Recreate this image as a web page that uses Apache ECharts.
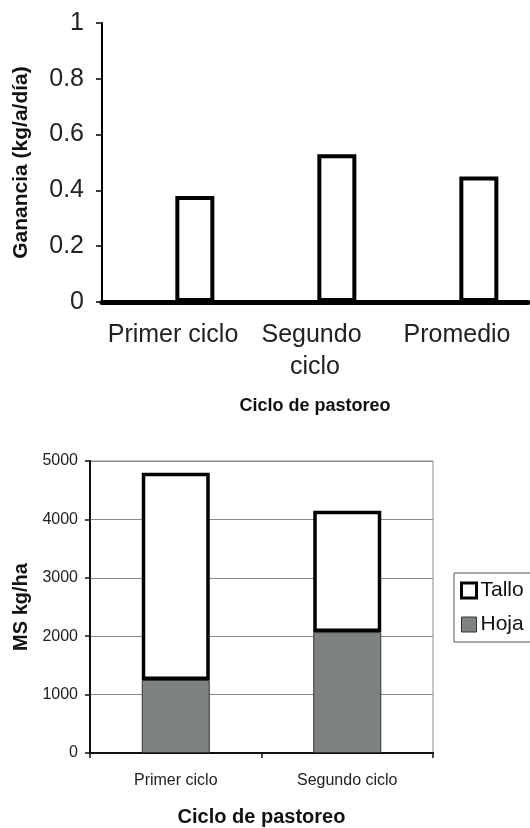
<!DOCTYPE html>
<html>
<head>
<meta charset="utf-8">
<script src="https://cdn.jsdelivr.net/npm/echarts@6/dist/echarts.min.js"></script>
<style>
  html, body { margin: 0; padding: 0; background: #ffffff; }
  #chart { width: 530px; height: 828px; }
</style>
</head>
<body>
<div id="chart"></div>
<script>
// Upper panel: daily weight gain per grazing cycle
const gainCategories = ['Primer ciclo', 'Segundo ciclo', 'Promedio'];
const gainValues = [0.38, 0.53, 0.45];

// Lower panel: dry matter split into stem and leaf
const dmCategories = ['Primer ciclo', 'Segundo ciclo'];
const hojaValues = [1250, 2070];
const talloValues = [3550, 2080];

const FONT = 'Liberation Sans, Arial, sans-serif';
const chart = echarts.init(document.getElementById('chart'), null, { renderer: 'canvas' });

chart.setOption({
  backgroundColor: '#ffffff',
  animation: false,
  textStyle: { fontFamily: FONT, color: '#111' },
  grid: [
    { left: 102, top: 23, width: 426, height: 279 },
    { left: 90, top: 461, width: 343, height: 292, show: true, borderColor: '#8a8a8a', borderWidth: 1, backgroundColor: 'transparent' }
  ],
  legend: {
    data: [
      { name: 'Tallo', itemStyle: { color: '#ffffff', borderColor: '#000', borderWidth: 3 } },
      { name: 'Hoja', itemStyle: { color: '#7f8282', borderColor: '#333', borderWidth: 1 } }
    ],
    orient: 'vertical',
    left: 454,
    top: 573,
    icon: 'rect',
    itemWidth: 15,
    itemHeight: 15,
    itemGap: 13,
    padding: [7, 30, 7, 6],
    borderColor: '#555',
    borderWidth: 1,
    textStyle: { fontFamily: FONT, fontSize: 21, color: '#111', padding: [0, 0, 0, -1] }
  },
  xAxis: [
    {
      type: 'category',
      gridIndex: 0,
      data: gainCategories,
      axisLine: { lineStyle: { color: '#000', width: 5 } },
      axisTick: { show: false },
      axisLabel: { interval: 0, fontSize: 25, color: '#222', margin: 17, width: 135, overflow: 'break', lineHeight: 32 },
      name: 'Ciclo de pastoreo',
      nameLocation: 'middle',
      nameGap: 95,
      nameTextStyle: { fontSize: 18, fontWeight: 'bold', color: '#111' }
    },
    {
      type: 'category',
      gridIndex: 1,
      data: dmCategories,
      axisLine: { lineStyle: { color: '#111', width: 2 } },
      axisTick: { show: true, length: 5, lineStyle: { color: '#111', width: 1.5 } },
      axisLabel: { interval: 0, fontSize: 16, color: '#222', margin: 20 },
      name: 'Ciclo de pastoreo',
      nameLocation: 'middle',
      nameGap: 54,
      nameTextStyle: { fontSize: 20, fontWeight: 'bold', color: '#111' }
    }
  ],
  yAxis: [
    {
      type: 'value',
      gridIndex: 0,
      min: 0, max: 1, interval: 0.2,
      axisLine: { show: true, lineStyle: { color: '#000', width: 2 } },
      axisTick: { show: true, length: 6, lineStyle: { color: '#000', width: 1.5 } },
      splitLine: { show: false },
      axisLabel: { fontSize: 25, color: '#222', margin: 18, formatter: v => String(Math.round(v * 10) / 10) },
      name: 'Ganancia (kg/a/día)',
      nameLocation: 'middle',
      nameGap: 70,
      nameTextStyle: { fontSize: 21, fontWeight: 'bold', color: '#111' }
    },
    {
      type: 'value',
      gridIndex: 1,
      min: 0, max: 5000, interval: 1000,
      axisLine: { show: true, lineStyle: { color: '#111', width: 2 } },
      axisTick: { show: true, length: 5, lineStyle: { color: '#111', width: 1.5 } },
      splitLine: { show: true, lineStyle: { color: '#8a8a8a', width: 1 } },
      axisLabel: { fontSize: 16, color: '#222', margin: 12, formatter: v => String(v) },
      name: 'MS kg/ha',
      nameLocation: 'middle',
      nameGap: 58,
      nameTextStyle: { fontSize: 20, fontWeight: 'bold', color: '#111' }
    }
  ],
  series: [
    {
      // empty companion series: keeps the gain bars in the right half of each slot
      name: 'vacío',
      type: 'bar',
      xAxisIndex: 0, yAxisIndex: 0,
      barWidth: 39,
      barGap: '12%',
      data: []
    },
    {
      name: 'Ganancia',
      type: 'bar',
      xAxisIndex: 0, yAxisIndex: 0,
      barWidth: 39,
      barGap: '12%',
      data: gainValues,
      itemStyle: { color: '#ffffff', borderColor: '#000', borderWidth: 4 }
    },
    {
      name: 'Hoja',
      type: 'bar',
      stack: 'ms',
      xAxisIndex: 1, yAxisIndex: 1,
      barWidth: 68,
      data: hojaValues,
      itemStyle: { color: '#7f8282', borderColor: '#333', borderWidth: 1 }
    },
    {
      name: 'Tallo',
      type: 'bar',
      stack: 'ms',
      xAxisIndex: 1, yAxisIndex: 1,
      barWidth: 68,
      data: talloValues,
      itemStyle: { color: '#ffffff', borderColor: '#000', borderWidth: 3.5 }
    }
  ]
});
</script>
</body>
</html>
